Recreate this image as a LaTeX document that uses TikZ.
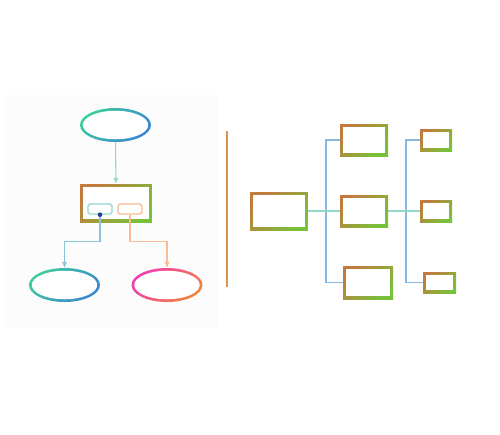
\documentclass[tikz,border=0pt]{standalone}
\usetikzlibrary{shapes.geometric, arrows.meta}

\definecolor{boxorange}{HTML}{C27A3E}
\definecolor{boxgreen}{HTML}{78C23A}
\definecolor{ovalgreen}{HTML}{3CCB9C}
\definecolor{ovalblue}{HTML}{3A86D2}
\definecolor{ovalpink}{HTML}{F23CB0}
\definecolor{ovalorange}{HTML}{F0823E}
\definecolor{linkteal}{HTML}{92D8CC}
\definecolor{linkblue}{HTML}{86B6E2}
\definecolor{linkorange}{HTML}{F8BC90}
\definecolor{divorange}{HTML}{D8934E}
\definecolor{dotblue}{HTML}{1F3F9A}

\tikzset{
  oval/.style 2 args={ellipse, minimum width=1.42cm, minimum height=0.68cm,
    inner sep=0pt, outer sep=0pt, top color=#1, bottom color=#2, shading angle=45,
    path picture={\fill[white] (path picture bounding box.center)
      ellipse [x radius=0.655cm, y radius=0.285cm];}},
  gbox/.style={rectangle, inner sep=0pt, outer sep=0pt,
    top color=boxorange, bottom color=boxgreen, shading angle=45,
    path picture={\fill[white] ([shift={(1.8pt,-1.8pt)}]path picture bounding box.north west)
      rectangle ([shift={(-1.8pt,1.8pt)}]path picture bounding box.south east);}},
  boxsize/.style 2 args={minimum width=#1, minimum height=#2},
  tag/.style={rectangle, rounded corners=1pt, line width=0.8pt, fill=white,
    minimum width=0.48cm, minimum height=0.2cm, inner sep=0pt},
  link/.style={line width=0.6pt, -{Latex[length=3.5pt, width=3pt]}},
  bus/.style={line width=0.6pt}
}

\begin{document}
\begin{tikzpicture}[x=0.02cm, y=-0.02cm]
\useasboundingbox (0,0) rectangle (500,434);

% left panel
\fill[black!1] (5,95) rectangle (218,328);

\node[oval={ovalgreen}{ovalblue}] (topoval) at (115.5,125) {};
\node[gbox, boxsize={1.44cm}{0.76cm}] (center) at (116,203) {};
\node[tag, draw=linkteal] (tagA) at (100,209) {};
\node[tag, draw=linkorange] (tagB) at (130,209) {};
\node[oval={ovalgreen}{ovalblue}] (leftoval) at (64.5,285) {};
\node[oval={ovalpink}{ovalorange}] (rightoval) at (167,285) {};

\draw[link, linkteal] (topoval) -- (center);
\draw[link, linkblue!60!linkteal] (tagA.south) -- ++(0,27) -| (leftoval.north);
\draw[link, linkorange] (tagB.south) -- ++(0,27) -| (rightoval.north);
\fill[dotblue] (tagA.south) circle (1.3pt);

% divider
\draw[divorange, line width=0.8pt] (227,131) -- (227,287);

% right panel
\node[gbox, boxsize={1.16cm}{0.76cm}] (root) at (279,211) {};
\node[gbox, boxsize={0.96cm}{0.64cm}] (midA) at (364,140) {};
\node[gbox, boxsize={0.96cm}{0.64cm}] (midB) at (364,211) {};
\node[gbox, boxsize={1.0cm}{0.66cm}] (midC) at (368,282.5) {};
\node[gbox, boxsize={0.64cm}{0.44cm}] (leafA) at (436,140) {};
\node[gbox, boxsize={0.64cm}{0.44cm}] (leafB) at (436,211) {};
\node[gbox, boxsize={0.66cm}{0.42cm}] (leafC) at (439.5,282.5) {};

\draw[bus, linkblue] (midA.west) -- ++(-14,0) |- (midC.west);
\draw[bus, linkteal] (root.east) -- (midB.west);
\draw[bus, linkblue] (leafA.west) -- ++(-14,0) |- (leafC.west);
\draw[bus, linkteal] (midB.east) -- (leafB.west);

\end{tikzpicture}
\end{document}
